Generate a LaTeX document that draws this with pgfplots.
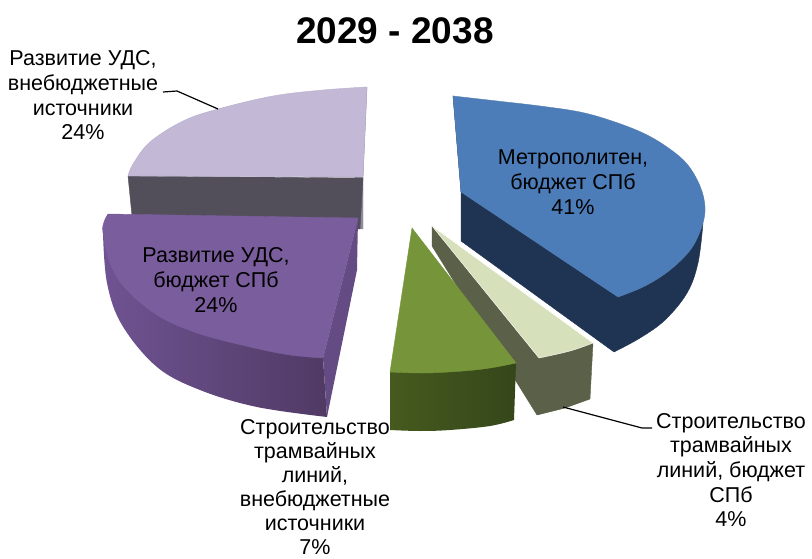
\documentclass[border=0pt]{standalone}
\usepackage{pgfplots}
\pgfplotsset{compat=1.18}
\usepackage{fontspec}
\setmainfont{Liberation Sans}
\definecolor{bluetop}{HTML}{4C7DB9}
\definecolor{blueside}{HTML}{1F3352}
\definecolor{lgtop}{HTML}{D6E1BB}
\definecolor{lgside}{HTML}{5B6049}
\definecolor{gtop}{HTML}{76953A}
\definecolor{gsideL}{HTML}{465A1E}
\definecolor{gsideR}{HTML}{35471A}
\definecolor{latop}{HTML}{C3B9D7}
\definecolor{laside}{HTML}{524F5A}
\definecolor{lastrip}{HTML}{8F8A9E}
\definecolor{putop}{HTML}{7A5D9C}
\definecolor{pusideL}{HTML}{6F5392}
\definecolor{pusideR}{HTML}{503A64}
\begin{document}
\begin{tikzpicture}[lab/.style={align=center,inner sep=0pt,font=\fontsize{21.5}{24.7}\selectfont},
  labt/.style={align=center,inner sep=0pt,font=\fontsize{21.5}{24.1}\selectfont}]
\useasboundingbox (0,0) rectangle (812pt,559pt);
\begin{axis}[at={(0,0)},anchor=south west,scale only axis,width=812pt,height=559pt,
  xmin=0,xmax=812,ymin=0,ymax=559,y dir=reverse,hide axis,clip=false]
% lavender slice
\addplot[fill=lastrip,draw=lastrip,thin] coordinates {(367,87)(363,177)(363,229)(355,229)(355,177)} -- cycle;
\addplot[fill=laside,draw=laside,thin] coordinates {(128,176)(363,178)(360,229)(132,216)} -- cycle;
\addplot[fill=latop,draw=latop!85!gray,thin,smooth,tension=0.6] coordinates {(128,176)(133,164)(150,142)(183,121)(218,109)(273,96)(323,90)(367,87)} -- (axis cs:363,177) -- cycle;
% purple slice
\addplot[left color=pusideL,right color=pusideR,draw=none,smooth,tension=0.6] coordinates {(103,233)(107,283)(122,325)(157,367)(200,390)(257,407)(327,417)} -- (axis cs:323,358) -- cycle;
\addplot[fill=pusideL!90!black,draw=none] coordinates {(358,218)(357,270)(327,417)(323,358)} -- cycle;
\addplot[fill=putop,draw=putop,thin,smooth,tension=0.6] coordinates {(108,214)(104,222)(103,233)(110,263)(125,288)(157,315)(197,333)(250,347)(290,355)(323,358)} -- (axis cs:358,218) -- cycle;
% blue slice
\addplot[fill=blueside,draw=blueside,thin,smooth,tension=0.6] coordinates {(703,223)(698,263)(687,293)(665,320)(640,338)(614,352)} -- (axis cs:461,241) -- (axis cs:461,192) -- (axis cs:453,96) -- (axis cs:618,297) -- cycle;
\addplot[fill=bluetop,draw=bluetop!85!gray,thin,smooth,tension=0.6] coordinates {(453,96)(497,101)(540,106)(580,112)(612,121)(643,133)(667,147)(687,164)(700,186)(705,207)(702,226)(691,249)(670,270)(645,286)(618,297)} -- (axis cs:461,192) -- cycle;
% light green slice
\addplot[fill=lgside,draw=lgside,thin] coordinates {(432,226)(432,246)(537,415)(565,408)(590,399)(593,343)(539,358)} -- cycle;
\addplot[fill=lgtop,draw=white,thin,smooth,tension=0.6] coordinates {(539,358)(570,351)(593,343)} -- (axis cs:432,226) -- cycle;
% green slice
\addplot[left color=gsideL,right color=gsideR,draw=none,smooth,tension=0.6] coordinates {(390,430)(420,431)(450,430)(490,426)(514,420)} -- (axis cs:516,363) -- (axis cs:390,372) -- cycle;
\addplot[fill=gtop,draw=gtop,thin,smooth,tension=0.6] coordinates {(516,363)(490,368)(463,371)(425,373)(390,372)} -- (axis cs:412,228) -- cycle;
% leader lines
\addplot[black,line width=1.2pt] coordinates {(163,92)(177,91)(218,109)};
\addplot[black,line width=1.2pt] coordinates {(563,407)(642,428)(652,428)};
% text
\node[align=center,inner sep=0pt,font=\fontsize{37}{40}\selectfont\bfseries] at (axis cs:395,31) {2029 - 2038};
\node[lab] at (axis cs:83,95.5) {Развитие УДС,\\внебюджетные\\источники\\24\%};
\node[lab] at (axis cs:573,182) {Метрополитен,\\бюджет СПб\\41\%};
\node[lab] at (axis cs:216,280) {Развитие УДС,\\бюджет СПб\\24\%};
\node[labt] at (axis cs:315,487) {Строительство\\трамвайных\\линий,\\внебюджетные\\источники\\7\%};
\node[lab] at (axis cs:731,470) {Строительство\\трамвайных\\линий, бюджет\\СПб\\4\%};
\end{axis}
\end{tikzpicture}
\end{document}
